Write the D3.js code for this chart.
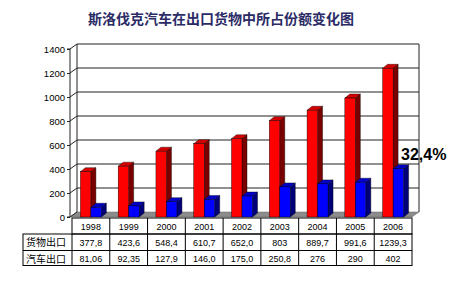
<!DOCTYPE html>
<html>
<head>
<meta charset="utf-8">
<script src="https://cdn.jsdelivr.net/npm/d3@7"></script>
<style>
  body { margin: 0; background: #fff; }
  svg { display: block; font-family: Arial, "Liberation Sans", sans-serif; }
</style>
</head>
<body>
<svg id="chart" width="460" height="302"></svg>
<script>
const years = ['1998', '1999', '2000', '2001', '2002', '2003', '2004', '2005', '2006'];
const goods = [377.8, 423.6, 548.4, 610.7, 652.0, 803, 889.7, 991.6, 1239.3];
const cars = [81.06, 92.35, 127.9, 146.0, 175.0, 250.8, 276, 290, 402];
const goodsLabels = ['377,8', '423,6', '548,4', '610,7', '652,0', '803', '889,7', '991,6', '1239,3'];
const carsLabels = ['81,06', '92,35', '127,9', '146,0', '175,0', '250,8', '276', '290', '402'];
const seriesNames = ['货物出口', '汽车出口'];
const yTicks = [0, 200, 400, 600, 800, 1000, 1200, 1400];
const shareLabel = '32,4%';

const svg = d3.select('#chart');

const left = 72, right = 412;
const x = d3.scaleBand().domain(years).range([left, right]);
const y = d3.scaleLinear().domain([0, 1400]).range([217, 49]);
const wdx = 7, wdy = -5;   // depth of the walls
const bdx = 5, bdy = -4;   // depth of the bars
const axisX = 70;

// title
svg.append('text')
    .attr('x', 221).attr('y', 24)
    .attr('text-anchor', 'middle')
    .attr('font-family', '"Noto Sans CJK SC", sans-serif')
    .attr('font-size', 14)
    .attr('font-weight', 'bold')
    .attr('fill', '#2b2b66')
    .text('斯洛伐克汽车在出口货物中所占份额变化图');

// floor
svg.append('path')
    .attr('d', `M${axisX},${y(0)} L${right},${y(0)} L${right + wdx},${y(0) + wdy} L${axisX + wdx},${y(0) + wdy} Z`)
    .attr('fill', '#8c8c8c')
    .attr('stroke', '#666').attr('stroke-width', 0.5);

// back wall gridlines
const g = svg.append('g');
g.selectAll('line.grid')
    .data(yTicks.slice(1))
    .enter().append('line')
    .attr('x1', axisX + wdx).attr('x2', right + wdx)
    .attr('y1', d => y(d) + wdy).attr('y2', d => y(d) + wdy)
    .attr('stroke', '#222').attr('stroke-width', 1);
// side wall gridlines
g.selectAll('line.side')
    .data(yTicks)
    .enter().append('line')
    .attr('x1', axisX).attr('x2', axisX + wdx)
    .attr('y1', d => y(d)).attr('y2', d => y(d) + wdy)
    .attr('stroke', '#222').attr('stroke-width', 1);
// wall edges
g.append('line')
    .attr('x1', axisX + wdx).attr('x2', axisX + wdx)
    .attr('y1', y(1400) + wdy).attr('y2', y(0) + wdy)
    .attr('stroke', '#222');
g.append('line')
    .attr('x1', right + wdx).attr('x2', right + wdx)
    .attr('y1', y(1400) + wdy).attr('y2', y(0) + wdy)
    .attr('stroke', '#222');

// bars
const barW = 10.5;
function bar3d(sel, x0, v, front, top, side) {
    const x1 = x0 + barW, y0 = y(0), yt = y(v);
    sel.append('path')
        .attr('d', `M${x1},${y0} L${x1 + bdx},${y0 + bdy} L${x1 + bdx},${yt + bdy} L${x1},${yt} Z`)
        .attr('fill', side).attr('stroke', '#000').attr('stroke-width', 0.4);
    sel.append('path')
        .attr('d', `M${x0},${yt} L${x0 + bdx},${yt + bdy} L${x1 + bdx},${yt + bdy} L${x1},${yt} Z`)
        .attr('fill', top).attr('stroke', '#000').attr('stroke-width', 0.4);
    sel.append('rect')
        .attr('x', x0).attr('y', yt).attr('width', barW).attr('height', y0 - yt)
        .attr('fill', front).attr('stroke', '#000').attr('stroke-width', 0.4);
}
const bars = svg.append('g');
years.forEach((yr, i) => {
    const c = x(yr) + x.bandwidth() / 2;
    bar3d(bars, c - barW, goods[i], '#ff0000', '#d40000', '#7a0000');
    bar3d(bars, c, cars[i], '#0000ff', '#0000c8', '#000078');
});

// y axis
const yAxis = svg.append('g')
    .attr('transform', `translate(${axisX},0)`)
    .call(d3.axisLeft(y).tickValues(yTicks).tickSize(3).tickPadding(2).tickFormat(d3.format('d')));
yAxis.select('.domain').attr('stroke', '#222').attr('d', `M-3,${y(1400)}H0V${y(0)}H-3`);
yAxis.selectAll('text').attr('font-size', 9.5).attr('fill', '#000').attr('font-family', 'Arial, "Liberation Sans", sans-serif');
yAxis.selectAll('line').attr('stroke', '#222');

// 32,4% label
svg.append('text')
    .attr('x', 401).attr('y', 160)
    .attr('font-size', 16).attr('font-weight', 'bold')
    .attr('fill', '#000')
    .text(shareLabel);

// data table
const t = svg.append('g');
const rowY = [218, 234, 250.5, 265.5];
const labelLeft = 23;
const rows = [goodsLabels, carsLabels];
t.append('rect').attr('x', left).attr('y', rowY[0]).attr('width', right - left).attr('height', rowY[1] - rowY[0])
    .attr('fill', 'none').attr('stroke', '#000');
t.append('rect').attr('x', labelLeft).attr('y', rowY[1]).attr('width', right - labelLeft).attr('height', rowY[3] - rowY[1])
    .attr('fill', 'none').attr('stroke', '#000');
t.append('line').attr('x1', labelLeft).attr('x2', right).attr('y1', rowY[2]).attr('y2', rowY[2]).attr('stroke', '#000');
t.append('line').attr('x1', left).attr('x2', left).attr('y1', rowY[1]).attr('y2', rowY[3]).attr('stroke', '#000');
t.selectAll('line.col')
    .data(years.slice(1))
    .enter().append('line')
    .attr('x1', d => x(d)).attr('x2', d => x(d))
    .attr('y1', rowY[0]).attr('y2', rowY[3])
    .attr('stroke', '#000');

t.selectAll('text.yr')
    .data(years)
    .enter().append('text')
    .attr('x', d => x(d) + x.bandwidth() / 2)
    .attr('y', rowY[0] + 11.5)
    .attr('text-anchor', 'middle').attr('font-size', 9).attr('fill', '#000')
    .text(d => d);

rows.forEach((labels, r) => {
    t.selectAll('text.r' + r)
        .data(labels)
        .enter().append('text')
        .attr('x', (d, i) => x(years[i]) + x.bandwidth() / 2)
        .attr('y', rowY[r + 1] + 11.5)
        .attr('text-anchor', 'middle').attr('font-size', 9).attr('fill', '#000')
        .text(d => d);
    t.append('text')
        .attr('x', labelLeft + 3)
        .attr('y', rowY[r + 1] + 12)
        .attr('font-family', '"Noto Sans CJK SC", sans-serif')
        .attr('font-size', 10).attr('fill', '#000')
        .text(seriesNames[r]);
});
</script>
</body>
</html>
